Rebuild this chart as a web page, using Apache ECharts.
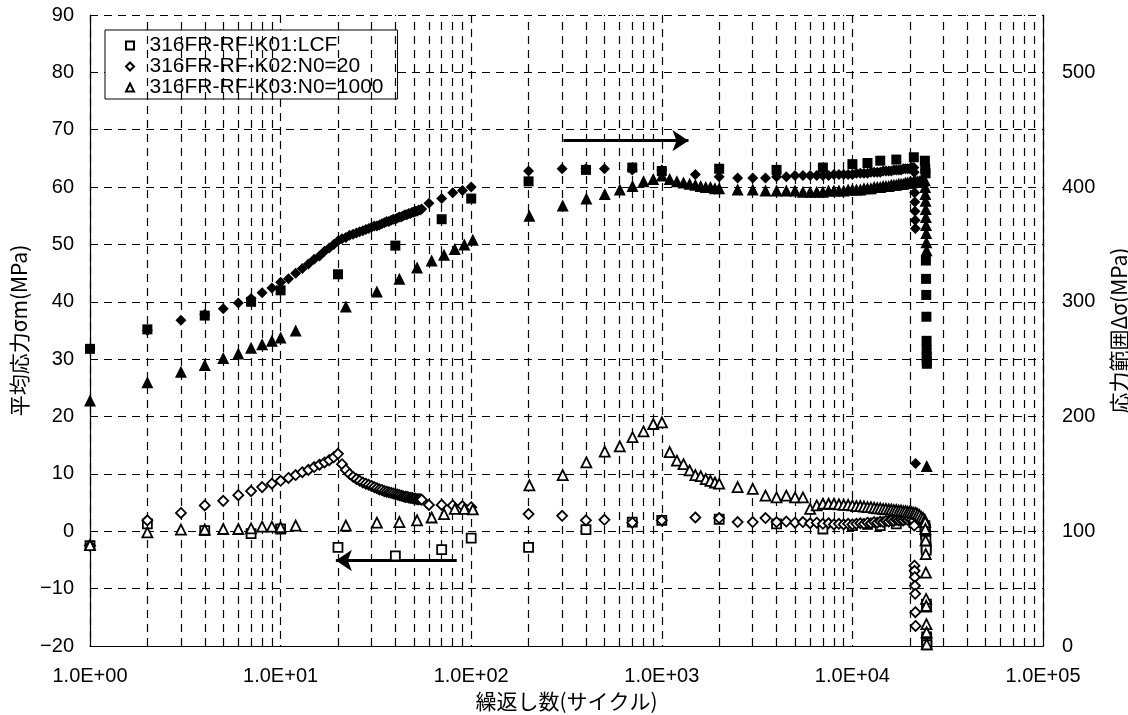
<!DOCTYPE html>
<html>
<head>
<meta charset="utf-8">
<script src="https://cdn.jsdelivr.net/npm/echarts@6/dist/echarts.min.js"></script>
<style>
html,body{margin:0;padding:0;background:#fff;}
#chart{width:1128px;height:715px;}
</style>
</head>
<body>
<div id="chart"></div>
<script>
// ---------------- data ----------------
const seriesNames = ['316FR-RF-K01:LCF', '316FR-RF-K02:N0=20', '316FR-RF-K03:N0=1000'];

// K01 : LCF
const k01Cycles = [1,2,4,7,10,20,40,70,100,200,400,700,1000,2000,4000,7000,10000,12000,14000,17000,21000,
  24000,24100,24200,24300,24350,24400,24450,24500,24520,24540,24560,24580];
const k01Range = [259,276,288,300,310,324,349,372,390,405,415,417,414,416,415,417,420,421,423,424,426,
  423,416,412,336,320,306,287,266,258,252,248,246];
const k01Mean = [-2.5,1.3,0.1,-0.4,0.4,-2.8,-4.3,-3.2,-1.2,-2.8,0.3,1.6,1.9,2.1,1.3,0.4,1.0,1.2,1.0,1.3,1.5,
  1.0,0.4,-0.5,-1.6,-2.8,-3.3,-12.7,-13.2,-18.4,-19.0,-19.5,-19.8];

// K02 : N0=20
const k02Cycles = [1,2,3,4,5,6,7,8,9,10,11,12,13,14,15,16,17,18,19,20,
  21,22,23,24,25,26,27,28,29,30,31,32,33,34,35,36,37,38,39,40,
  41,42,43,44,45,46,47,48,49,50,51,52,53,54,55,
  60,70,80,90,100,200,300,400,500,700,1000,1500,2000,2500,3000,3500,
  4000,4500,5000,5500,6000,6500,7000,7500,8000,8500,9000,9500,10000,10500,11000,11500,12000,12500,
  13000,13500,14000,14500,15000,15500,16000,16500,17000,17500,18000,18500,19000,19500,20000,20500,21000,
  21100,21150,21200,21250,21300,21350,21400,21450];
const k02Range = [259,275,284,289,294,299,303,308,312,317,320,325,329,333,337,340,344,347,350,353,
  355,356,358,359,360,361,362,363,364,365,366,366,367,368,369,370,370,371,372,372,
  373,374,374,375,376,376,377,377,378,378,379,379,380,380,381,
  386,390,395,397,400,414,416,416,416,415,415,411,409,408,408,408,
  409,409,410,410,410,410,410,410,411,411,411,411,411,412,412,412,412,413,
  413,413,413,414,414,414,414,415,415,415,415,416,416,416,416,417,417,
  413,404,395,387,379,371,364,159];
const k02Mean = [-2.5,1.9,3.2,4.5,5.3,6.3,7.0,7.7,8.3,8.8,9.3,9.8,10.3,10.7,11.2,11.6,12.0,12.4,12.9,13.5,
  11.7,10.7,10.0,9.5,9.1,8.8,8.5,8.3,8.1,7.9,7.7,7.5,7.3,7.2,7.0,6.9,6.8,6.7,6.6,6.5,
  6.4,6.3,6.2,6.1,6.0,6.0,5.9,5.8,5.8,5.7,5.7,5.6,5.6,5.6,5.5,
  4.6,4.6,4.5,4.4,4.2,3.0,2.7,1.9,2.0,1.5,1.9,2.4,2.3,1.6,1.6,2.3,
  1.6,1.7,1.5,1.6,1.4,1.5,1.3,1.4,1.2,1.3,1.2,1.3,1.2,1.3,1.4,1.3,1.5,1.4,
  1.6,1.5,1.7,1.6,1.8,1.7,1.9,1.8,2.0,1.9,2.0,1.9,2.1,2.0,2.2,2.0,1.8,
  1.0,-6.0,-6.9,-8.0,-9.5,-10.9,-14.1,-16.5];

// K03 : N0=1000
const k03Cycles = [1,2,3,4,5,6,7,8,9,10,12,22,32,42,52,62,72,82,92,102,
  202,302,402,502,602,702,802,902,1002,1100,1200,1300,1400,1500,1600,1700,1800,1900,2000,2500,3000,3500,
  4000,4500,5000,5500,6000,6500,7000,7500,8000,8500,9000,9500,10000,10500,11000,11500,12000,12500,
  13000,13500,14000,14500,15000,15500,16000,16500,17000,17500,18000,18500,19000,19500,20000,20500,21000,
  21500,22000,22500,23000,23500,24000,
  24100,24150,24200,24250,24300,24350,24400,24450,24500,24550];
const k03Range = [214,230,239,245,251,255,260,263,266,269,275,296,309,320,330,336,341,346,350,354,
  375,384,390,394,398,401,405,407,410,407,405,404,403,402,401,400,400,399,399,398,398,397,
  397,397,397,396,396,396,396,397,397,397,397,398,398,398,398,399,399,399,
  400,400,400,401,401,401,402,402,402,403,403,403,404,404,404,404,405,
  405,405,405,406,406,406,
  400,394,388,381,374,367,360,352,345,157];
const k03Mean = [-2.4,-0.2,0.3,0.3,0.4,0.4,0.5,0.8,0.8,0.7,1.0,1.0,1.5,1.6,1.9,2.4,3.0,3.9,3.9,3.8,
  8.0,9.8,12.0,13.9,14.8,16.4,17.4,18.7,19.0,13.8,12.3,11.7,10.6,9.8,9.6,9.1,8.8,8.5,8.3,7.7,7.4,6.2,
  5.9,6.2,5.9,5.9,3.9,4.5,4.8,4.8,4.8,4.7,4.6,4.6,4.5,4.4,4.4,4.3,4.2,4.2,
  4.1,4.0,4.0,3.9,3.9,3.8,3.8,3.7,3.7,3.6,3.6,3.5,3.5,3.4,3.4,3.3,3.2,
  3.2,3.0,2.8,2.5,2.3,2.0,
  1.6,0.4,-1.6,-4.0,-7.2,-11.8,-13.0,-16.2,-17.6,-19.7];

// axis ticks / guides
const xMin = 1, xMax = 100000;
const yLeftMin = -20, yLeftMax = 90, yLeftStep = 10;
const yRightMin = 0, yRightMax = 550, yRightStep = 100;
const minorGridCycles = [2,3,4,5,6,7,8,9,20,30,40,50,60,70,80,90,200,300,400,500,600,700,800,900,
  2000,3000,4000,5000,6000,7000,8000,9000,20000,30000,40000,50000,60000,70000,80000,90000];
// annotation arrows in data coordinates (cycles, left-axis MPa)
const arrowToRight = [[305, 68.1], [1380, 68.1]];
const arrowToLeft = [[84, -5.1], [19.5, -5.1]];

// ---------------- chart ----------------
const FONT = '"Liberation Sans", Arial, "Noto Sans CJK JP", sans-serif';
const JFONT = '"Noto Sans CJK JP", "Liberation Sans", sans-serif';
const TICK_FS = 20, NAME_FS = 21, LEGEND_FS = 21;

function zip(xs, ys) {
  const n = Math.min(xs.length, ys.length);
  if (xs.length !== ys.length) console.warn('length mismatch', xs.length, ys.length);
  const out = [];
  for (let i = 0; i < n; i++) out.push([xs[i], ys[i]]);
  return out;
}
const dash = [8, 6];
const hollow = {color: '#fff', borderColor: '#000', borderWidth: 1.8, opacity: 1};
const filled = {color: '#000', borderColor: '#000', borderWidth: 0, opacity: 1};

function scatter(name, symbol, size, style, yIdx, data) {
  return {name, type: 'scatter', symbol, symbolSize: size, itemStyle: style,
    yAxisIndex: yIdx, data, z: 5, silent: true};
}

const chart = echarts.init(document.getElementById('chart'), null, {renderer: 'canvas'});
chart.setOption({
  animation: false,
  backgroundColor: '#fff',
  textStyle: {fontFamily: FONT, color: '#000'},
  grid: {left: 90, right: 85, top: 15, bottom: 69, containLabel: false, outerBoundsMode: 'none'},
  legend: {
    data: seriesNames,
    orient: 'vertical',
    left: 105, top: 30,
    padding: [5, 14, 1, 20],
    itemGap: 0,
    itemWidth: 8, itemHeight: 8,
    borderColor: '#000', borderWidth: 1,
    backgroundColor: '#fff',
    formatter: n => '\u2002' + n,
    textStyle: {fontSize: LEGEND_FS, lineHeight: 21, color: '#000', fontFamily: FONT},
    selectedMode: false
  },
  xAxis: {
    type: 'log', logBase: 10, min: xMin, max: xMax,
    name: '繰返し数(サイクル)', nameLocation: 'middle', nameGap: 41,
    nameTextStyle: {fontSize: NAME_FS, color: '#000', fontFamily: JFONT},
    axisLine: {onZero: false, lineStyle: {color: '#000', width: 1.2}},
    axisTick: {show: false},
    axisLabel: {fontSize: TICK_FS, color: '#000', margin: 20,
      formatter: v => { const e = Math.round(Math.log10(v)); return '1.0E+' + (e < 10 ? '0' : '') + e; }},
    splitLine: {show: true, lineStyle: {type: dash, color: '#000', width: 1.2}}
  },
  yAxis: [
    {
      type: 'value', position: 'left', min: yLeftMin, max: yLeftMax, interval: yLeftStep,
      name: '平均応力σm(MPa)', nameLocation: 'middle', nameRotate: 90, nameGap: 54,
      nameTextStyle: {fontSize: NAME_FS, color: '#000', fontFamily: JFONT},
      axisLine: {show: true, onZero: false, lineStyle: {color: '#000', width: 1.2}},
      axisTick: {show: false},
      axisLabel: {fontSize: TICK_FS, color: '#000', margin: 16, formatter: v => String(v).replace('-', '\u2212')},
      splitLine: {show: true, lineStyle: {type: dash, color: '#000', width: 1.2}}
    },
    {
      type: 'value', position: 'right', min: yRightMin, max: yRightMax, interval: yRightStep,
      name: '応力範囲Δσ(MPa)', nameLocation: 'middle', nameRotate: 90, nameGap: 66,
      nameTextStyle: {fontSize: NAME_FS, color: '#000', fontFamily: JFONT},
      axisLine: {show: true, onZero: false, lineStyle: {color: '#000', width: 1.2}},
      axisTick: {show: false},
      axisLabel: {fontSize: TICK_FS, color: '#000', margin: 19, showMaxLabel: false,
        formatter: v => (v > 500 ? '' : String(v))},
      splitLine: {show: false}
    }
  ],
  series: [
    {
      name: '_grid', type: 'scatter', data: [], yAxisIndex: 0, z: 1, silent: true,
      markLine: {
        silent: true, symbol: ['none', 'none'], animation: false,
        label: {show: false},
        lineStyle: {type: dash, color: '#000', width: 1.2, opacity: 1},
        data: minorGridCycles.map(c => ({xAxis: c}))
      }
    },
    {
      name: '_arrows', type: 'scatter', data: [], yAxisIndex: 0, z: 6, silent: true,
      markLine: {
        silent: true, symbol: ['none', 'arrow'], symbolSize: 16, animation: false,
        label: {show: false},
        lineStyle: {type: 'solid', color: '#000', width: 3, opacity: 1},
        data: [
          [{coord: arrowToRight[0]}, {coord: arrowToRight[1]}],
          [{coord: arrowToLeft[0]}, {coord: arrowToLeft[1]}]
        ]
      }
    },
    scatter(seriesNames[0], 'rect', 9, hollow, 0, zip(k01Cycles, k01Mean)),
    scatter(seriesNames[1], 'diamond', 10, hollow, 0, zip(k02Cycles, k02Mean)),
    scatter(seriesNames[2], 'triangle', 10, hollow, 0, zip(k03Cycles, k03Mean)),
    scatter(seriesNames[0] + ' Δσ', 'rect', 10, filled, 1, zip(k01Cycles, k01Range)),
    scatter(seriesNames[1] + ' Δσ', 'diamond', 11, filled, 1, zip(k02Cycles, k02Range)),
    scatter(seriesNames[2] + ' Δσ', 'triangle', 12, filled, 1, zip(k03Cycles, k03Range))
  ]
});
</script>
</body>
</html>
